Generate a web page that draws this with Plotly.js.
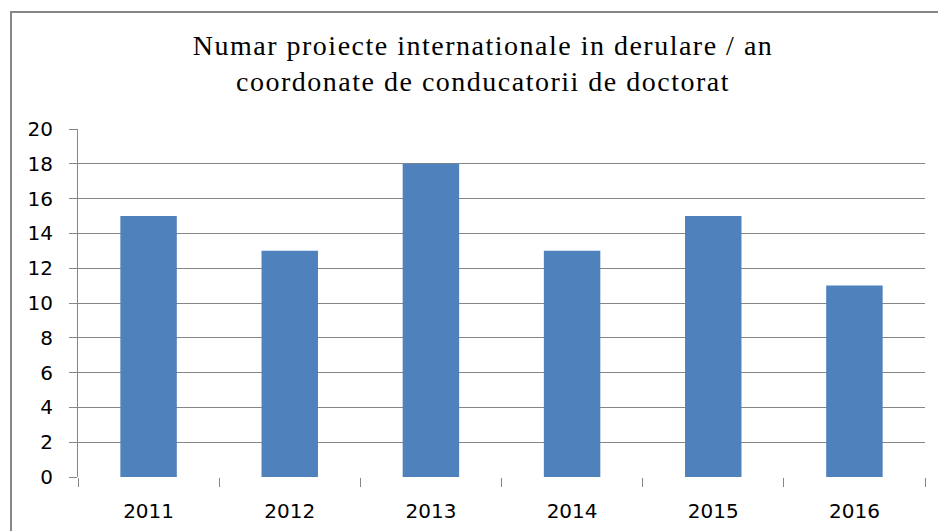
<!DOCTYPE html>
<html><head><meta charset="utf-8">
<script src="https://cdn.plot.ly/plotly-3.0.1.min.js"></script>
<style>html,body{margin:0;padding:0;background:#fff;}#chart{width:938px;height:531px;}
#chart .gtitle{letter-spacing:1.5px;}</style>
</head><body><div id="chart"></div>
<script>
const years = ['2011','2012','2013','2014','2015','2016'];
const projects = [15, 13, 18, 13, 15, 11];
const titleLines = ['Numar proiecte internationale in derulare / an', 'coordonate de conducatorii de doctorat'];
const yTicks = [0,2,4,6,8,10,12,14,16,18,20];

const W = 938, H = 531, L = 78, R = 13, T = 129, B = 54;
const pw = W - L - R, ph = H - T - B;

const trace = {
  type: 'bar', x: years, y: projects, width: 0.4,
  marker: {color: '#4F81BD'}, hoverinfo: 'x+y'
};
const layout = {
  width: W, height: H,
  margin: {l: L, r: R, t: T, b: B, pad: 0},
  paper_bgcolor: '#fff', plot_bgcolor: '#fff',
  showlegend: false,
  title: {
    text: titleLines.join('<br>'),
    font: {family: '"Liberation Serif", "Times New Roman", serif', size: 28, color: '#000'},
    x: 0.515, xref: 'container', xanchor: 'center',
    y: 1 - 55/531, yref: 'container', yanchor: 'middle'
  },
  xaxis: {
    type: 'category', showline: false, showgrid: false, zeroline: false,
    ticks: 'outside', tickson: 'boundaries', ticklen: 9, tickcolor: '#868686', tickwidth: 1,
    ticklabelstandoff: 20,
    tickfont: {family: '"DejaVu Sans", sans-serif', size: 20, color: '#000'}
  },
  yaxis: {
    range: [0, 20], tickvals: yTicks, ticktext: yTicks.map(String),
    showline: true, linecolor: '#868686', linewidth: 1,
    showgrid: true, gridcolor: '#868686', gridwidth: 1, zeroline: false,
    ticks: 'outside', ticklen: 8, tickcolor: '#868686', tickwidth: 1,
    ticklabelstandoff: 12,
    tickfont: {family: '"DejaVu Sans", sans-serif', size: 20, color: '#000'}
  },
  shapes: [{
    type: 'rect', xref: 'paper', yref: 'paper', layer: 'below',
    x0: (11 - L) / pw, x1: (W + 20 - L) / pw,
    y0: (H - B - (H + 20)) / ph, y1: (H - B - 12) / ph,
    line: {color: '#868686', width: 2}, fillcolor: 'rgba(0,0,0,0)'
  }]
};
Plotly.newPlot('chart', [trace], layout, {displayModeBar: false, staticPlot: true});
</script></body></html>
